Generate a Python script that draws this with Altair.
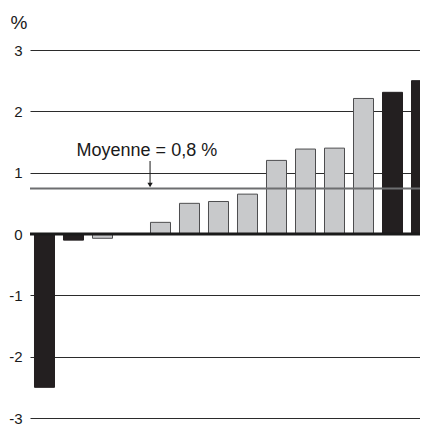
import altair as alt
import pandas as pd

# Data
values = [-2.5, -0.1, -0.07, 0.0, 0.19, 0.5, 0.53, 0.65, 1.2, 1.385, 1.4, 2.21, 2.31, 2.5]
highlight = [True, True, False, False, False, False, False, False, False, False, False, False, True, True]
positions = list(range(len(values)))

mean_value = [0.74]
ann_text = ["Moyenne = 0,8 %"]
ann_text_x = [3.53]
ann_text_y = [1.27]
arrow_x = [3.64]
arrow_top = [1.19]
arrow_bottom = [0.80]
y_ticks = [-3, -2, -1, 0, 1, 2, 3]

df = pd.DataFrame({"pos": positions, "value": values, "hl": highlight})
df["x0"] = df["pos"] - 0.345
df["x1"] = df["pos"] + 0.345

xscale = alt.Scale(domain=[-0.5, 12.948], nice=False, zero=False)
yscale = alt.Scale(domain=[-3, 3], nice=False)

FONT = "Liberation Sans"

base = alt.Chart(df)

bars = base.mark_bar(clip=True, strokeWidth=1).encode(
    x=alt.X("x0:Q", scale=xscale, axis=None),
    x2="x1:Q",
    y=alt.Y(
        "value:Q",
        scale=yscale,
        axis=alt.Axis(
            values=y_ticks,
            labelExpr="'' + datum.value",
            grid=True,
            gridColor="#2b2b2b",
            gridWidth=1,
            domain=False,
            ticks=False,
            labelFont=FONT,
            labelFontSize=15,
            labelColor="#1a1a1a",
            labelPadding=8,
            title="%",
            titleAngle=0,
            titleFont=FONT,
            titleFontSize=19,
            titleFontWeight="normal",
            titleColor="#1a1a1a",
            titleAlign="left",
            titleBaseline="alphabetic",
            titleX=-20,
            titleY=-22,
        ),
    ),
    y2=alt.datum(0),
    color=alt.Color(
        "hl:N",
        scale=alt.Scale(domain=[True, False], range=["#231f20", "#c8c9cb"]),
        legend=None,
    ),
    stroke=alt.Stroke(
        "hl:N",
        scale=alt.Scale(domain=[True, False], range=["#231f20", "#4d4d4f"]),
        legend=None,
    ),
)

zero_line = alt.Chart(pd.DataFrame({"y": [0]})).mark_rule(
    color="#1a1a1a", strokeWidth=3
).encode(y=alt.Y("y:Q", scale=yscale))

mean_df = pd.DataFrame({"m": mean_value})
mean_line = alt.Chart(mean_df).mark_rule(color="#6d6e70", strokeWidth=2).encode(
    y=alt.Y("m:Q", scale=yscale)
)

arrow_df = pd.DataFrame({"x": arrow_x, "y1": arrow_top, "y2": arrow_bottom})
arrow = alt.Chart(arrow_df).mark_rule(color="#1a1a1a", strokeWidth=1).encode(
    x=alt.X("x:Q", scale=xscale),
    y=alt.Y("y1:Q", scale=yscale),
    y2="y2:Q",
)
arrow_head = alt.Chart(arrow_df).mark_point(
    shape="triangle-down", filled=True, color="#1a1a1a", size=28, opacity=1
).encode(
    x=alt.X("x:Q", scale=xscale),
    y=alt.Y("y2:Q", scale=yscale),
)

ann_df = pd.DataFrame({"t": ann_text, "x": ann_text_x, "y": ann_text_y})
ann = alt.Chart(ann_df).mark_text(
    font=FONT, fontSize=18, color="#1a1a1a", align="center", baseline="alphabetic"
).encode(
    x=alt.X("x:Q", scale=xscale),
    y=alt.Y("y:Q", scale=yscale),
    text="t:N",
)

chart = (
    alt.layer(bars, zero_line, mean_line, arrow, arrow_head, ann)
    .properties(
        width=390,
        height=368,
        padding={"left": 22, "top": 42, "right": 0, "bottom": 7},
        autosize=alt.AutoSizeParams(type="none"),
        background="white",
    )
    .configure_view(stroke=None)
)

chart.save("out.html", embed_options={"renderer": "svg", "actions": False})
